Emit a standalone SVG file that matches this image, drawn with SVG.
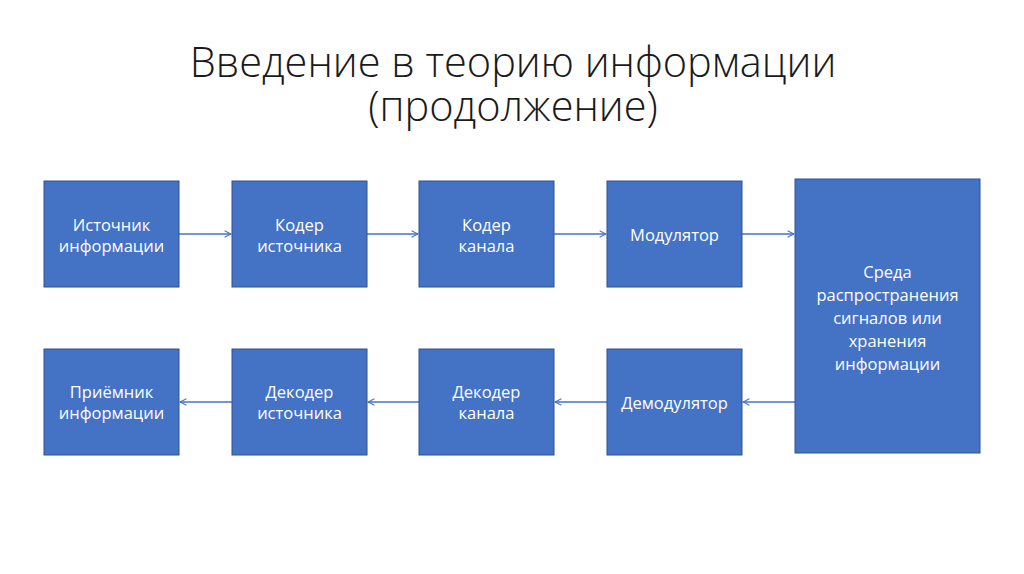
<svg xmlns="http://www.w3.org/2000/svg" width="1024" height="574" viewBox="0 0 1024 574">
<defs>
<style>
.box{fill:#4472C4;stroke:#2F528F;stroke-width:1}
.t{font-family:"Open Sans","Liberation Sans",sans-serif;font-size:16.5px;fill:#fff;text-anchor:middle}
.title{font-family:"Open Sans","Liberation Sans",sans-serif;font-weight:300;font-size:41.5px;fill:#1a1a1a;text-anchor:middle}
.c{stroke:#4472C4;stroke-width:1.3;fill:none;marker-end:url(#a)}
</style>
<marker id="a" viewBox="0 0 10 10" refX="9" refY="5" markerWidth="8" markerHeight="8" markerUnits="userSpaceOnUse" orient="auto">
<path d="M1,1 L9,5 L1,9" fill="none" stroke="#4472C4" stroke-width="1.3"/>
</marker>
</defs>
<rect width="1024" height="574" fill="#fff"/>
<text class="title" x="513" y="77">Введение в теорию информации</text>
<text class="title" x="513" y="121">(продолжение)</text>
<g id="connectors">
<line class="c" x1="179" y1="234" x2="231" y2="234"/>
<line class="c" x1="367" y1="234" x2="418" y2="234"/>
<line class="c" x1="554" y1="234" x2="606" y2="234"/>
<line class="c" x1="742" y1="234" x2="794" y2="234"/>
<line class="c" x1="795" y1="402" x2="743" y2="402"/>
<line class="c" x1="607" y1="402" x2="555" y2="402"/>
<line class="c" x1="419" y1="402" x2="368" y2="402"/>
<line class="c" x1="232" y1="402" x2="180" y2="402"/>
</g>
<g id="n1"><rect class="box" x="44" y="181" width="135" height="106"/><text class="t" x="111.5" y="231">Источник</text><text class="t" x="111.5" y="252">информации</text></g>
<g id="n2"><rect class="box" x="232" y="181" width="135" height="106"/><text class="t" x="299.5" y="231">Кодер</text><text class="t" x="299.5" y="252">источника</text></g>
<g id="n3"><rect class="box" x="419" y="181" width="135" height="106"/><text class="t" x="486.5" y="231">Кодер</text><text class="t" x="486.5" y="252">канала</text></g>
<g id="n4"><rect class="box" x="607" y="181" width="135" height="106"/><text class="t" x="674.5" y="241">Модулятор</text></g>
<g id="n5"><rect class="box" x="795" y="179" width="185" height="274"/><text class="t" x="887.5" y="278">Среда</text><text class="t" x="887.5" y="301">распространения</text><text class="t" x="887.5" y="324">сигналов или</text><text class="t" x="887.5" y="347">хранения</text><text class="t" x="887.5" y="370">информации</text></g>
<g id="n6"><rect class="box" x="607" y="349" width="135" height="106"/><text class="t" x="674.5" y="409">Демодулятор</text></g>
<g id="n7"><rect class="box" x="419" y="349" width="135" height="106"/><text class="t" x="486.5" y="398">Декодер</text><text class="t" x="486.5" y="419">канала</text></g>
<g id="n8"><rect class="box" x="232" y="349" width="135" height="106"/><text class="t" x="299.5" y="398">Декодер</text><text class="t" x="299.5" y="419">источника</text></g>
<g id="n9"><rect class="box" x="44" y="349" width="135" height="106"/><text class="t" x="111.5" y="398">Приёмник</text><text class="t" x="111.5" y="419">информации</text></g>
</svg>
